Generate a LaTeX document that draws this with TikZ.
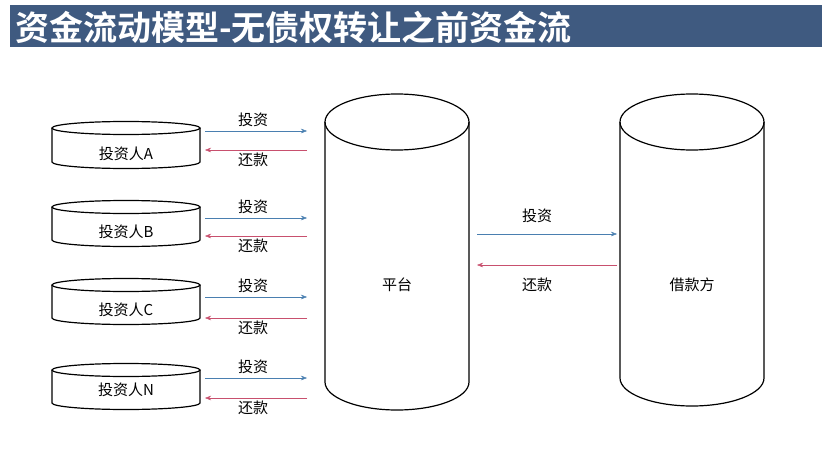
\documentclass[tikz,border=0pt]{standalone}
\usepackage{fontspec}
\setmainfont{Liberation Sans}
\newfontfamily\cjk{Noto Sans CJK SC}
\newfontfamily\cjkb{Noto Sans CJK SC Bold}
\usetikzlibrary{arrows.meta}
\definecolor{barc}{HTML}{3F5A80}
\definecolor{inv}{HTML}{4A7FB0}
\definecolor{rep}{HTML}{C8506E}
% \mycyl{cx}{top-ellipse-center-y}{bottom-y}{rx}{ry}
\newcommand{\mycyl}[5]{%
  \draw[cylline] (#1-#4,#2) -- (#1-#4,#3) arc[start angle=180,end angle=360,x radius=#4,y radius=-#5] -- (#1+#4,#2);
  \draw[cylline] (#1,#2) ellipse[x radius=#4,y radius=#5];}
\begin{document}
\begin{tikzpicture}[x=1pt,y=-1pt,
  cylline/.style={draw,line width=1.2pt},
  lab/.style={font=\cjk\fontsize{15}{15}\selectfont},
  ia/.style={draw=inv,-{Stealth[length=6pt]}},
  ra/.style={draw=rep,-{Stealth[length=6pt]}}]
\useasboundingbox (0,0) rectangle (832,452);
\fill[barc] (10,5) rectangle (822,47);
\node[anchor=west,text=white,font=\cjkb\fontsize{34}{34}\selectfont,inner sep=0pt] (title) at (15,27) {资金流动模型-无债权转让之前资金流};
\mycyl{126}{128}{162}{74}{6.5}
\mycyl{126}{207}{240}{74}{6.5}
\mycyl{126}{285}{318}{74}{6.5}
\mycyl{126}{370}{403}{74}{6.5}
\mycyl{397}{122}{382}{72}{28}
\mycyl{692}{122}{378}{72}{28}
\node[lab] (A) at (126,154) {投资人A};
\node[lab] (B) at (126,232) {投资人B};
\node[lab] (C) at (126,310) {投资人C};
\node[lab] (N) at (126,390) {投资人N};
\node[lab] (pt) at (397,285) {平台};
\node[lab] (jk) at (692,285) {借款方};
\foreach \n/\yi/\yr in {A/131/150,B/218/236,C/297/318,N/378/398}{
  \coordinate (\n i1) at (205,\yi); \coordinate (\n i2) at (307,\yi);
  \coordinate (\n r1) at (307,\yr); \coordinate (\n r2) at (205,\yr);
  \draw[ia] (\n i1) -- (\n i2);
  \draw[ra] (\n r1) -- (\n r2);
  \node[lab] at (253,\yi-11) {投资};
  \node[lab] at (253,\yr+10) {还款};
}
\coordinate (m1) at (477,234); \coordinate (m2) at (617,234);
\coordinate (m3) at (617,265); \coordinate (m4) at (477,265);
\draw[ia] (m1) -- (m2);
\draw[ra] (m3) -- (m4);
\node[lab] at (537,216) {投资};
\node[lab] at (537,285) {还款};
\end{tikzpicture}
\end{document}
